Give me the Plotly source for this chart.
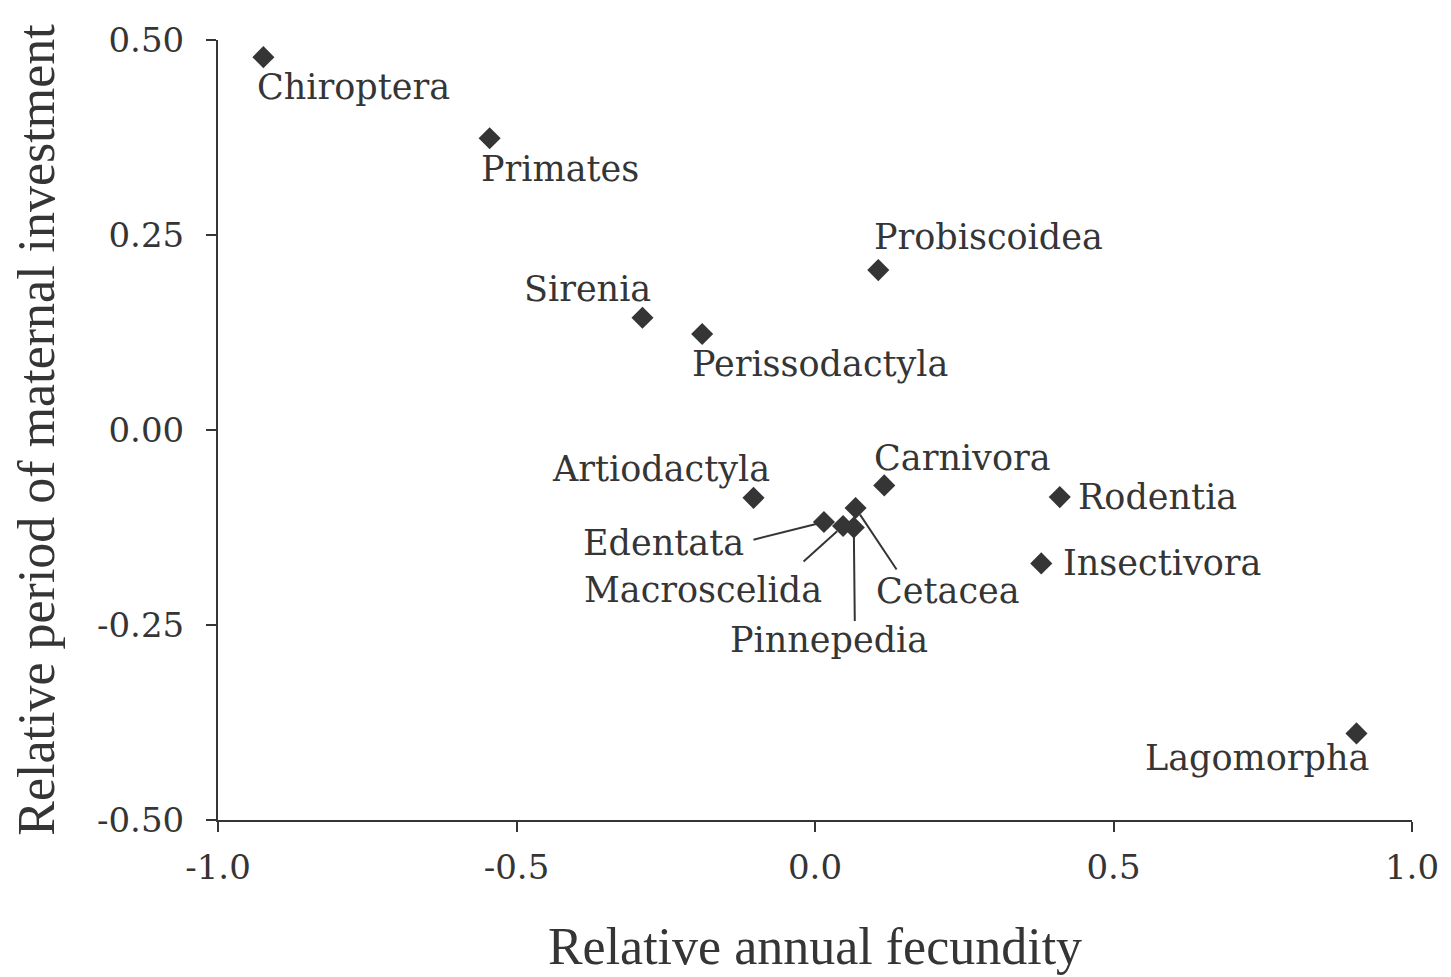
import plotly.graph_objects as go

# Mammalian orders
orders = ["Chiroptera", "Primates", "Probiscoidea", "Sirenia", "Perissodactyla",
          "Artiodactyla", "Carnivora", "Rodentia", "Insectivora", "Edentata",
          "Macroscelida", "Pinnepedia", "Cetacea", "Lagomorpha"]
fecundity = [-0.924, -0.545, 0.106, -0.289, -0.189, -0.103, 0.116, 0.410,
             0.379, 0.015, 0.047, 0.065, 0.068, 0.907]
investment = [0.478, 0.374, 0.205, 0.144, 0.123, -0.087, -0.071, -0.086,
              -0.171, -0.118, -0.123, -0.125, -0.100, -0.389]

x_ticks = [-1.0, -0.5, 0.0, 0.5, 1.0]
x_tick_labels = ["-1.0", "-0.5", "0.0", "0.5", "1.0"]
y_ticks = [-0.5, -0.25, 0.0, 0.25, 0.5]
y_tick_labels = ["-0.50", "-0.25", "0.00", "0.25", "0.50"]

ink = "#353535"
label_font = dict(family="DejaVu Serif", size=35, color=ink)

# label placement in pixels relative to the marker: (xanchor, xshift, yshift)
plain_labels = {
    "Chiroptera": ("left", -8, -30),
    "Primates": ("left", -11, -31),
    "Probiscoidea": ("left", -6, 33),
    "Sirenia": ("right", 11, 29),
    "Perissodactyla": ("left", -12, -30),
    "Artiodactyla": ("right", 18, 29),
    "Carnivora": ("left", -12, 27),
    "Rodentia": ("left", 16, 0),
    "Insectivora": ("left", 20, 0),
    "Lagomorpha": ("right", 15, -25),
}
# crowded labels with leader lines: (text xshift, text yshift, line ax, line ay, standoff)
leader_labels = {
    "Edentata": (-160, -21, -72, 18, 6),
    "Macroscelida": (-140, -64, -41, 37, 8),
    "Pinnepedia": (-25, -112, 1, 95, 3),
    "Cetacea": (92, -83, 42, 63, 8),
}

fig = go.Figure()

fig.add_trace(go.Scatter(
    x=fecundity,
    y=investment,
    mode="markers",
    marker=dict(symbol="diamond", size=17, color=ink, line=dict(width=0)),
    showlegend=False,
    cliponaxis=False,
))

annotations = []
for name, fx, fy in zip(orders, fecundity, investment):
    if name in plain_labels:
        anchor, dx, dy = plain_labels[name]
        annotations.append(dict(
            x=fx, y=fy, xref="x", yref="y", text=name, showarrow=False,
            xanchor=anchor, yanchor="middle", xshift=dx, yshift=dy, font=label_font,
        ))
    else:
        dx, dy, ax, ay, gap = leader_labels[name]
        annotations.append(dict(
            x=fx, y=fy, xref="x", yref="y", text=name, showarrow=False,
            xanchor="center", yanchor="middle", xshift=dx, yshift=dy, font=label_font,
        ))
        annotations.append(dict(
            x=fx, y=fy, xref="x", yref="y", text="", showarrow=True,
            ax=ax, ay=ay, arrowhead=0, arrowwidth=2, arrowcolor=ink, standoff=gap,
        ))

axis_style = dict(
    showline=True, linewidth=2, linecolor=ink,
    ticks="outside", ticklen=10, tickwidth=2, tickcolor=ink,
    showgrid=False, zeroline=False,
    ticklabeloverflow="allow",
    tickfont=dict(family="DejaVu Serif", size=34, color=ink),
)

fig.update_xaxes(
    range=[-1.0, 1.0],
    tickvals=x_ticks,
    ticktext=x_tick_labels,
    ticklabelstandoff=6,
    title=dict(text="Relative annual fecundity", standoff=42,
               font=dict(family="Liberation Serif", size=52, color=ink)),
    **axis_style,
)
fig.update_yaxes(
    range=[-0.5, 0.5],
    tickvals=y_ticks,
    ticktext=y_tick_labels,
    ticklabelstandoff=15,
    title=dict(text="Relative period of maternal investment", standoff=30,
               font=dict(family="Liberation Serif", size=52, color=ink)),
    **axis_style,
)

# the page body adds an 8 px offset, so the figure is trimmed to fit the window
fig.update_layout(
    width=1443,
    height=969,
    margin=dict(l=210, r=24, t=23, b=157),
    plot_bgcolor="white",
    paper_bgcolor="white",
    annotations=annotations,
)

fig.write_html("out.html")
